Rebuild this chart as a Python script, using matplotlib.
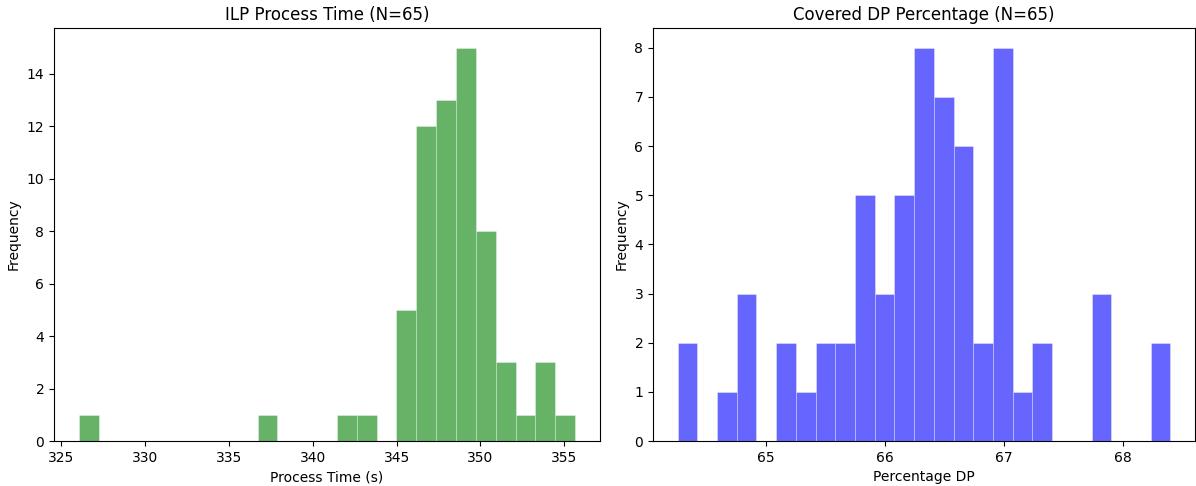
import numpy as np
import matplotlib
matplotlib.use("Agg")
import matplotlib.pyplot as plt

# histogram counts (25 bins each)
time_range = (326.05, 355.65)
time_counts = [1, 0, 0, 0, 0, 0, 0, 0, 0, 1, 0, 0, 0, 1, 1, 0,
               5, 12, 13, 15, 8, 3, 1, 3, 1]

dp_range = (64.26, 68.40)
dp_counts = [2, 0, 1, 3, 0, 2, 1, 2, 2, 5, 3, 5, 8, 7, 6, 2,
             8, 1, 2, 0, 0, 3, 0, 0, 2]


def draw_hist(ax, rng, counts, color, title, xlabel):
    edges = np.linspace(rng[0], rng[1], len(counts) + 1)
    centers = (edges[:-1] + edges[1:]) / 2
    ax.hist(centers, bins=edges, weights=counts, color=color, alpha=0.6,
            edgecolor="white", linewidth=0.4)
    ax.set_title(title, fontsize=12)
    ax.set_xlabel(xlabel, fontsize=10)
    ax.set_ylabel("Frequency", fontsize=10)
    ax.tick_params(labelsize=10)


fig = plt.figure(figsize=(11.96, 4.86), dpi=100)
ax1 = fig.add_axes([54 / 1196, 45 / 486, 546 / 1196, 413 / 486])
ax2 = fig.add_axes([653 / 1196, 45 / 486, 542 / 1196, 413 / 486])

draw_hist(ax1, time_range, time_counts, "green",
          f"ILP Process Time (N={sum(time_counts)})", "Process Time (s)")
draw_hist(ax2, dp_range, dp_counts, "blue",
          f"Covered DP Percentage (N={sum(dp_counts)})", "Percentage DP")

plt.savefig("out.png", dpi=100)
